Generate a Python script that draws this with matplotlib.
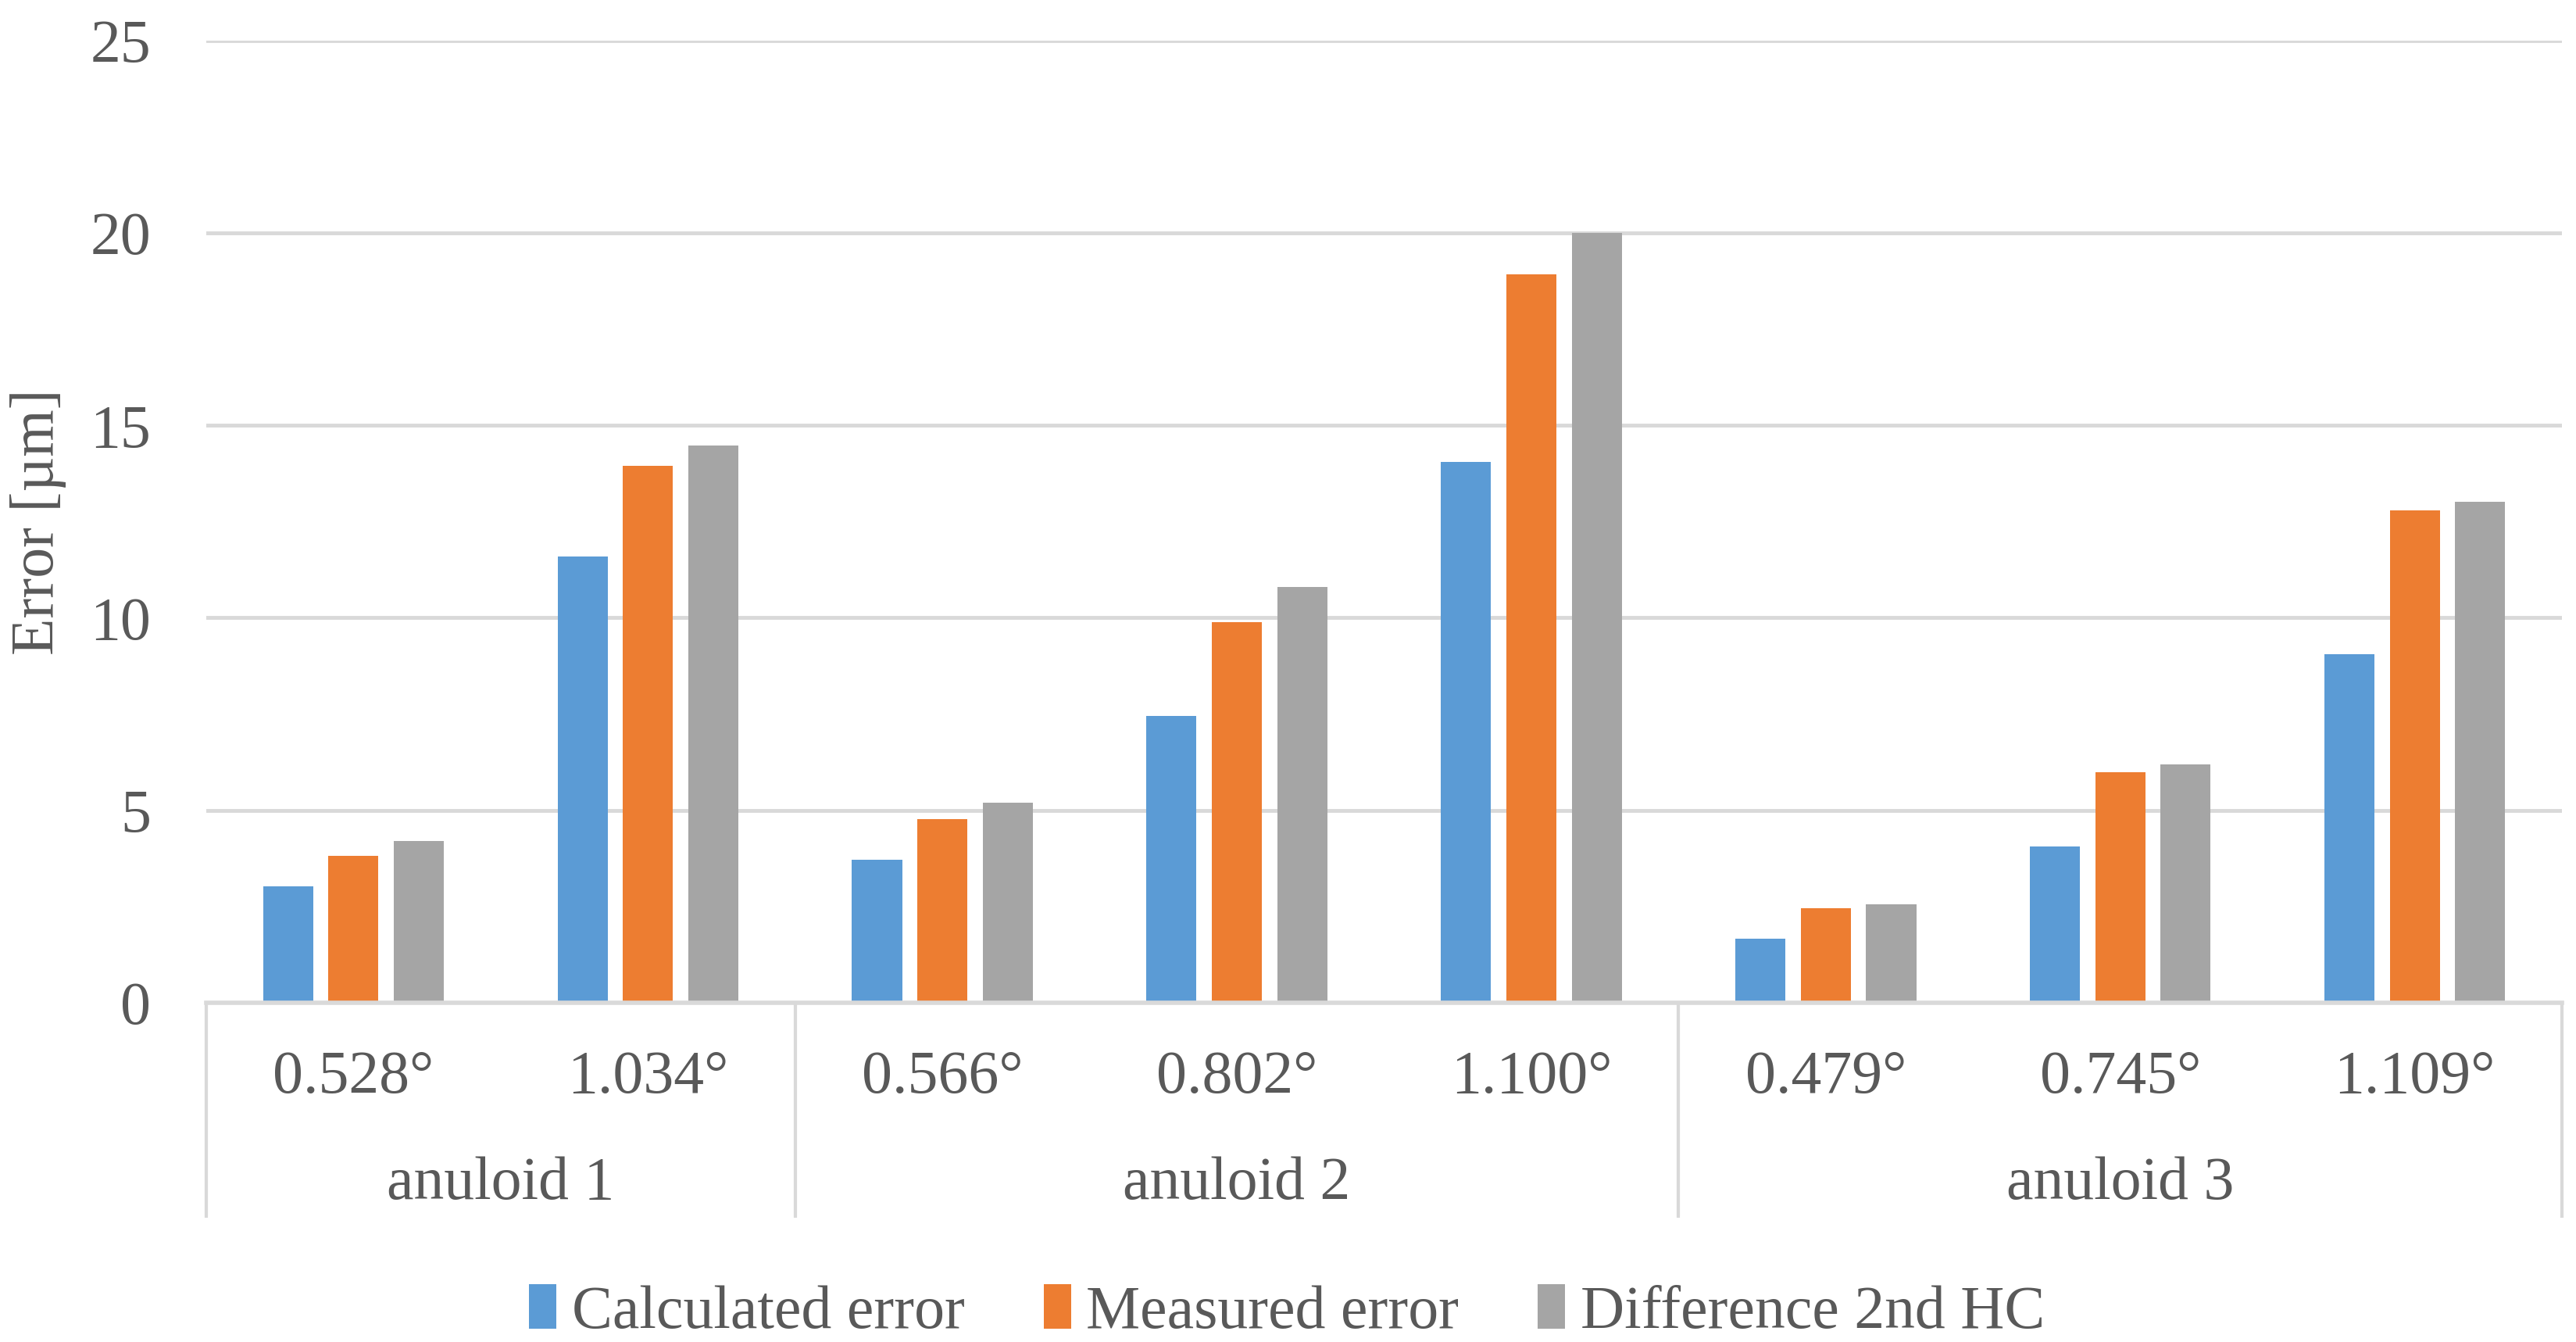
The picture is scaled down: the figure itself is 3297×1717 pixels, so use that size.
import matplotlib
matplotlib.use('Agg')
import matplotlib.pyplot as plt
import matplotlib.transforms as mtransforms
from matplotlib import font_manager
import numpy as np

serif_name = 'Liberation Serif'
try:
    font_manager.findfont(serif_name, fallback_to_default=False)
except ValueError:
    serif_name = 'DejaVu Serif'
plt.rcParams['font.family'] = 'serif'
plt.rcParams['font.serif'] = [serif_name, 'DejaVu Serif']

# data
angles = ['0.528°', '1.034°', '0.566°', '0.802°', '1.100°', '0.479°', '0.745°', '1.109°']
groups = ['anuloid 1', 'anuloid 2', 'anuloid 3']
group_sizes = [2, 3, 3]
calculated = [3.02, 11.6, 3.71, 7.45, 14.05, 1.66, 4.07, 9.06]
measured = [3.81, 13.95, 4.77, 9.88, 18.92, 2.45, 5.98, 12.8]
difference = [4.2, 14.48, 5.19, 10.8, 20.0, 2.55, 6.19, 13.01]
series_names = ['Calculated error', 'Measured error', 'Difference 2nd HC']
colors = ['#5B9BD5', '#ED7D31', '#A5A5A5']

text_color = '#595959'
grid_color = '#D9D9D9'
fs = 56

W, H = 3298, 1717
fig = plt.figure(figsize=(W / 100, H / 100), dpi=100)
left, right, top, bottom = 264, 3279, 51.7, 1283
ax = fig.add_axes([left / W, 1 - bottom / H, (right - left) / W, (bottom - top) / H])

x = np.arange(len(angles)) + 0.5
offset = 0.222
width = 0.17
for k, vals in enumerate([calculated, measured, difference]):
    ax.bar(x + (k - 1) * offset, vals, width, color=colors[k], label=series_names[k], zorder=3)

ax.set_xlim(0, len(angles))
ax.set_ylim(0, 25)
ax.set_yticks([0, 5, 10, 15, 20, 25])
ax.yaxis.grid(True, color=grid_color, linewidth=3.5, zorder=0)
ax.set_axisbelow(True)
for s in ['top', 'right', 'left']:
    ax.spines[s].set_visible(False)
ax.spines['bottom'].set_color(grid_color)
ax.spines['bottom'].set_linewidth(4)
ax.spines['bottom'].set_zorder(4)

ax.tick_params(axis='y', length=0, pad=51, labelsize=fs, labelcolor=text_color)
ax.set_xticks([])
ax.set_ylabel('Error [µm]', fontsize=fs, color=text_color, labelpad=22)

# category labels and group box below the axis
trans = mtransforms.blended_transform_factory(ax.transData, ax.transAxes)
for xi, lab in zip(x, angles):
    ax.text(xi, -0.078, lab, transform=trans, ha='center', va='center',
            fontsize=fs, color=text_color)

edges = np.concatenate([[0], np.cumsum(group_sizes)])
for g, name in enumerate(groups):
    mid = (edges[g] + edges[g + 1]) / 2
    ax.text(mid, -0.189, name, transform=trans, ha='center', va='center',
            fontsize=fs, color=text_color)
for e in edges:
    ax.plot([e, e], [0, -0.222], transform=trans, color=grid_color,
            linewidth=3, clip_on=False, zorder=4)

leg = fig.legend(loc='center', bbox_to_anchor=(0.4994, 0.022), ncol=3, frameon=False,
                 fontsize=fs, handlelength=0.45, handleheight=0.75, handletextpad=0.25,
                 columnspacing=1.3)
for t in leg.get_texts():
    t.set_color(text_color)

fig.savefig('out.png', dpi=100, facecolor='white')
